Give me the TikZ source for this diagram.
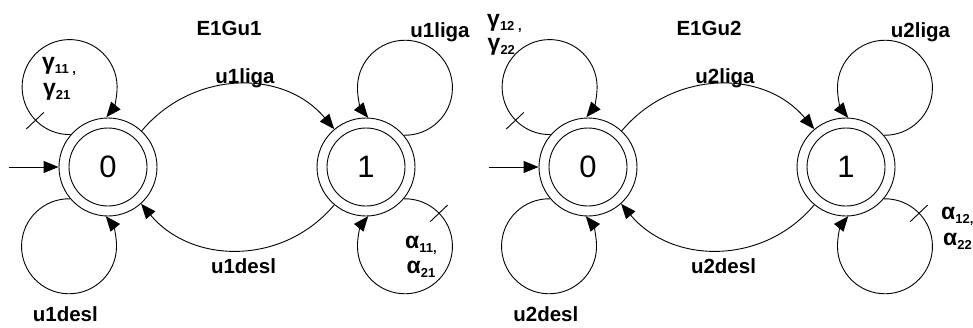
\documentclass[tikz,border=0pt]{standalone}
\usepackage{fontspec}
\setmainfont{Liberation Sans}
\usetikzlibrary{arrows.meta}
\newcommand\sbs[1]{\raisebox{-4pt}{\fontsize{13}{13}\selectfont #1}}
\newcommand\grk[1]{{\fontsize{23}{24}\selectfont #1}}
\begin{document}
\begin{tikzpicture}[x=1pt,y=1pt,
  state/.style={circle, draw, minimum size=98pt, inner sep=0pt, line width=0.9pt},
  innerc/.style={circle, draw, minimum size=78pt, inner sep=0pt, line width=0.9pt, font=\fontsize{31}{32}\selectfont},
  arr/.style={line width=0.9pt, -{Triangle[length=15pt,width=12pt]}},
  tickm/.style={line width=0.9pt},
  lbl/.style={font=\bfseries\fontsize{20.5}{24}\selectfont, inner sep=0pt, anchor=base},
  glbl/.style={font=\bfseries\fontsize{20.5}{24}\selectfont, inner sep=0pt, anchor=base west}]
\useasboundingbox (0,0) rectangle (973,-327);

% ---------- left automaton ----------
\node[state] (a0) at (108,-167) {};
\node[innerc] (a0i) at (a0) {0};
\node[state] (a1) at (366,-167) {};
\node[innerc] (a1i) at (a1) {1};
\coordinate (ia) at (9,-167);
\draw[arr] (ia) -- (a0);
\draw[arr] (a0.47) to[out=50,in=130,looseness=1.05] (a1.130);
\draw[arr] (a1.230) to[out=-130,in=-50,looseness=1.05] (a0.312);
% self loops
\draw[arr] (a0.139.8) arc[start angle=-88.7, end angle=-399.3, radius=47.5];
\draw[arr] (a0.220.2) arc[start angle=88.7, end angle=399.3, radius=47.5];
\draw[arr] (a1.40.2) arc[start angle=-91.3, end angle=219.3, radius=47.5];
\draw[arr] (a1.-40.2) arc[start angle=91.3, end angle=-219.3, radius=47.5];
\coordinate (L0t) at (69.5,-88);
\coordinate (L1b) at (404.5,-246);
\draw[tickm] (L0t) ++(223.5:35.5) -- ++(223.5:24);
\draw[tickm] (L1b) ++(43.5:35.5) -- ++(43.5:24);
% labels
\node[lbl] (t1) at (229,-35) {E1Gu1};
\node[lbl] (l01) at (245,-83) {u1liga};
\node[lbl] (l10) at (243.5,-273) {u1desl};
\node[lbl] (l11) at (440,-37.5) {u1liga};
\node[lbl] (l00) at (65.3,-321.5) {u1desl};
\node[glbl] (g1a) at (42,-69.5) {\grk{γ}\sbs{11 ,}};
\node[glbl] (g1b) at (43,-95) {\grk{γ}\sbs{21}};
\node[glbl] (al1a) at (405,-248.5) {\grk{α}\sbs{11,}};
\node[glbl] (al1b) at (406.5,-273.5) {\grk{α}\sbs{21}};

% ---------- right automaton ----------
\node[state] (b0) at (588,-167) {};
\node[innerc] (b0i) at (b0) {0};
\node[state] (b1) at (846,-167) {};
\node[innerc] (b1i) at (b1) {1};
\coordinate (ib) at (489,-167);
\draw[arr] (ib) -- (b0);
\draw[arr] (b0.47) to[out=50,in=130,looseness=1.05] (b1.130);
\draw[arr] (b1.230) to[out=-130,in=-50,looseness=1.05] (b0.312);
\draw[arr] (b0.139.8) arc[start angle=-88.7, end angle=-399.3, radius=47.5];
\draw[arr] (b0.220.2) arc[start angle=88.7, end angle=399.3, radius=47.5];
\draw[arr] (b1.40.2) arc[start angle=-91.3, end angle=219.3, radius=47.5];
\draw[arr] (b1.-40.2) arc[start angle=91.3, end angle=-219.3, radius=47.5];
\coordinate (M0t) at (549.5,-88);
\coordinate (M1b) at (884.5,-246);
\draw[tickm] (M0t) ++(223.5:35.5) -- ++(223.5:24);
\draw[tickm] (M1b) ++(43.5:35.5) -- ++(43.5:24);
\node[lbl] (t2) at (709,-35) {E1Gu2};
\node[lbl] (m01) at (725,-83) {u2liga};
\node[lbl] (m10) at (723.5,-273) {u2desl};
\node[lbl] (m11) at (920.5,-37.5) {u2liga};
\node[lbl] (m00) at (545.8,-321.5) {u2desl};
\node[glbl] (g2a) at (487,-26) {\grk{γ}\sbs{12 ,}};
\node[glbl] (g2b) at (487.5,-50) {\grk{γ}\sbs{22}};
\node[glbl] (al2a) at (941,-219) {\grk{α}\sbs{12,}};
\node[glbl] (al2b) at (943,-245) {\grk{α}\sbs{22}};
\end{tikzpicture}
\end{document}
